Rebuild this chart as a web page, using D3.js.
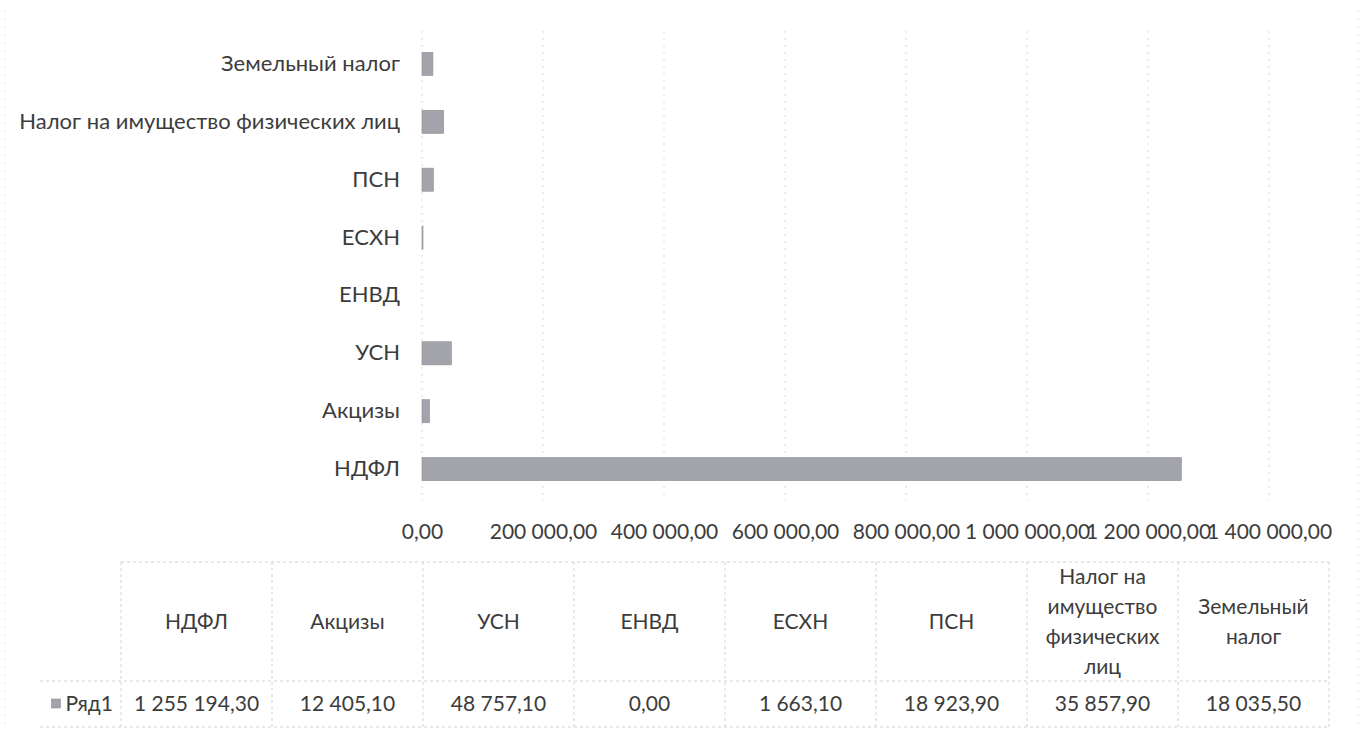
<!DOCTYPE html>
<html><head><meta charset="utf-8">
<script src="https://cdn.jsdelivr.net/npm/d3@7"></script>
<style>
html,body{margin:0;padding:0;background:#fff;}
text{font-family:Lato,"Noto Sans",sans-serif;fill:#3c3c3c;}
</style></head>
<body>
<svg id="chart" width="1367" height="733"></svg>
<script>
const categories = ["НДФЛ","Акцизы","УСН","ЕНВД","ЕСХН","ПСН","Налог на имущество физических лиц","Земельный налог"];
const values = [1255194.30, 12405.10, 48757.10, 0.00, 1663.10, 18923.90, 35857.90, 18035.50];
const headerLines = [["НДФЛ"],["Акцизы"],["УСН"],["ЕНВД"],["ЕСХН"],["ПСН"],["Налог на","имущество","физических","лиц"],["Земельный","налог"]];
const tickValues = [0,200000,400000,600000,800000,1000000,1200000,1400000];
const seriesName = "Ряд1";

const ru = d3.formatLocale({decimal:",", thousands:"\u00a0", grouping:[3], currency:["","₽"]});
const fmt = ru.format(",.2f");

const svg = d3.select("#chart");
const fs = 21, fsCat = 22;
const plot = {left:422, right:1269, top:35, bottom:498};
const x = d3.scaleLinear().domain([0,1400000]).range([plot.left, plot.right]);
const y = d3.scaleBand().domain(categories.slice().reverse()).range([plot.top, plot.bottom]).paddingInner(0.6).paddingOuter(0.3);

// chart border remnants
svg.append("g").selectAll("line").data([5,1358]).join("line")
  .attr("x1",d=>d).attr("x2",d=>d).attr("y1",10).attr("y2",725)
  .attr("stroke","#e4e4e4").attr("stroke-dasharray","2,6");

// gridlines
svg.append("g").selectAll("line").data(tickValues).join("line")
  .attr("x1",d=>x(d)).attr("x2",d=>x(d)).attr("y1",plot.top-4).attr("y2",plot.bottom+3)
  .attr("stroke","#d8d8d8").attr("stroke-width",1).attr("stroke-dasharray","2,5");

// bars
svg.append("g").selectAll("rect").data(categories).join("rect")
  .attr("x",x(0)).attr("y",(d)=>y(d)).attr("height",y.bandwidth())
  .attr("width",(d,i)=>Math.max(0,x(values[i])-x(0)))
  .attr("fill","#a3a3ab").attr("stroke","#909098").attr("stroke-width",0.6);

// category axis labels
const yAxis = d3.axisLeft(y).tickSize(0).tickPadding(22);
const gy = svg.append("g").attr("transform",`translate(${plot.left},0)`).call(yAxis);
gy.select(".domain").remove();
gy.selectAll("text").style("font-size",fsCat+"px").style("font-family","Lato,'Noto Sans',sans-serif").attr("fill","#3c3c3c");

// value axis labels
const xAxis = d3.axisBottom(x).tickValues(tickValues).tickFormat(fmt).tickSize(0).tickPadding(0);
const gx = svg.append("g").attr("transform",`translate(0,${plot.bottom+26})`).call(xAxis);
gx.select(".domain").remove();
gx.selectAll("text").style("font-size",fs+"px").style("font-family","Lato,'Noto Sans',sans-serif").attr("fill","#3c3c3c");

// data table
const tbl = {left:121, right:1329, top:562, mid:681, bottom:727, legendLeft:40};
const cx = d3.scaleBand().domain(categories).range([tbl.left, tbl.right]);
const tg = svg.append("g");
const lineStyle = s => s.attr("stroke","#d2d2d2").attr("stroke-dasharray","3,3").attr("stroke-width",1);
tg.append("line").attr("x1",tbl.left).attr("x2",tbl.right).attr("y1",tbl.top).attr("y2",tbl.top).call(lineStyle);
tg.append("line").attr("x1",tbl.legendLeft).attr("x2",tbl.right).attr("y1",tbl.mid).attr("y2",tbl.mid).call(lineStyle);
tg.append("line").attr("x1",tbl.legendLeft).attr("x2",tbl.right).attr("y1",tbl.bottom).attr("y2",tbl.bottom).call(lineStyle);
const vb = categories.map(c=>cx(c)).concat([tbl.right]);
tg.selectAll("line.v").data(vb).join("line").attr("class","v")
  .attr("x1",d=>d).attr("x2",d=>d).attr("y1",tbl.top).attr("y2",tbl.bottom).call(lineStyle);

const lh = 30;
const hc = (tbl.top+tbl.mid)/2;
categories.forEach((c,i)=>{
  const lines = headerLines[i];
  const t = tg.append("text").attr("text-anchor","middle").style("font-size",fs+"px");
  lines.forEach((ln,j)=>{
    t.append("tspan").attr("x",cx(c)+cx.bandwidth()/2)
     .attr("y",hc + (j-(lines.length-1)/2)*lh).attr("dy","0.35em").text(ln);
  });
  tg.append("text").attr("text-anchor","middle").style("font-size",fs+"px")
    .attr("x",cx(c)+cx.bandwidth()/2).attr("y",(tbl.mid+tbl.bottom)/2).attr("dy","0.35em")
    .text(fmt(values[i]));
});
// legend key
const vr = (tbl.mid+tbl.bottom)/2;
const lt = tg.append("text").attr("text-anchor","end").style("font-size",fs+"px")
  .attr("x",tbl.left-8).attr("y",vr).attr("dy","0.35em").text(seriesName);
const lw = lt.node().getComputedTextLength();
tg.append("rect").attr("x",tbl.left-8-lw-14).attr("y",vr-5).attr("width",9).attr("height",9)
  .attr("fill","#a3a3ab").attr("stroke","#909098").attr("stroke-width",0.6);
</script>
</body></html>
